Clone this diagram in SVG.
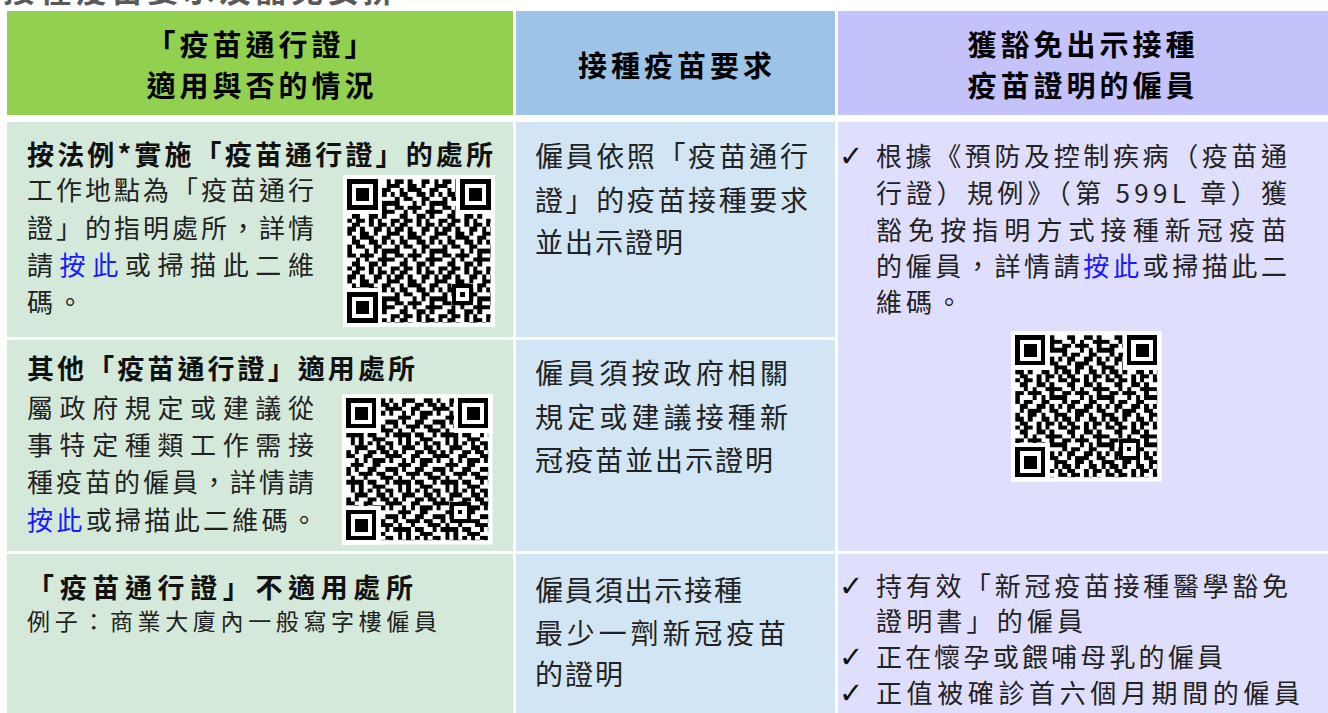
<svg xmlns="http://www.w3.org/2000/svg" xmlns:xlink="http://www.w3.org/1999/xlink" width="1328" height="713" viewBox="0 0 1328 713">
<style>
text{font-family:"Noto Sans CJK TC","Noto Sans CJK SC",sans-serif;fill:#222;font-size:26px}
.top{font-weight:700;font-size:32px;fill:#595959}
.h{font-weight:700;font-size:29px;fill:#000;text-anchor:middle;letter-spacing:4px}
.t{font-weight:700;font-size:27px;fill:#111}
.s{font-size:23px}
.b{font-size:28px}
.p{font-size:26px}
.lk{fill:#1a1aff}
.ck{font-family:"DejaVu Sans",sans-serif;font-size:29px;fill:#111}
.gh{fill:#92d050}.bh{fill:#9dc3e6}.ph{fill:#c4c2fb}
.gc{fill:#d4e9da}.bc{fill:#d1e5f4}.pc{fill:#e0defd}
</style>
<defs>
<pattern id="qpA" patternUnits="userSpaceOnUse" width="11" height="11">
<path shape-rendering="crispEdges" fill="#000" d="M0 0h1v1h-1zM2 0h2v1h-2zM6 0h1v1h-1zM8 0h2v1h-2zM1 1h2v1h-2zM4 1h1v1h-1zM7 1h2v1h-2zM10 1h1v1h-1zM0 2h2v1h-2zM4 2h2v1h-2zM7 2h1v1h-1zM10 2h1v1h-1zM2 3h1v1h-1zM4 3h3v1h-3zM9 3h2v1h-2zM0 4h1v1h-1zM2 4h2v1h-2zM6 4h2v1h-2zM9 4h1v1h-1zM1 5h1v1h-1zM3 5h2v1h-2zM7 5h2v1h-2zM0 6h2v1h-2zM5 6h1v1h-1zM7 6h1v1h-1zM9 6h2v1h-2zM1 7h2v1h-2zM4 7h3v1h-3zM9 7h1v1h-1zM0 8h1v1h-1zM3 8h1v1h-1zM5 8h1v1h-1zM8 8h3v1h-3zM2 9h2v1h-2zM6 9h2v1h-2zM9 9h1v1h-1zM0 10h2v1h-2zM3 10h2v1h-2zM6 10h1v1h-1zM8 10h1v1h-1z"/>
</pattern>
<pattern id="qpB" href="#qpA" xlink:href="#qpA" patternTransform="rotate(90)"/>
<pattern id="qpC" href="#qpA" xlink:href="#qpA" patternTransform="scale(1,-1)"/>
<g id="finder" shape-rendering="crispEdges">
<rect x="-1" y="-1" width="9" height="9" fill="#fff"/>
<rect width="7" height="7" fill="#000"/>
<rect x="1" y="1" width="5" height="5" fill="#fff"/>
<rect x="2" y="2" width="3" height="3" fill="#000"/>
</g>
<g id="align" shape-rendering="crispEdges">
<rect width="5" height="5" fill="#000"/>
<rect x="1" y="1" width="3" height="3" fill="#fff"/>
<rect x="2" y="2" width="1" height="1" fill="#000"/>
</g>
</defs>

<text class="top" x="3" y="2" textLength="392" lengthAdjust="spacing">接種疫苗要求及豁免安排</text>

<g id="header-green">
<rect class="gh" x="7" y="11" width="506" height="104"/>
<text class="h" x="262" y="56">「疫苗通行證」</text>
<text class="h" x="262" y="97">適用與否的情況</text>
</g>
<g id="header-blue">
<rect class="bh" x="516" y="11" width="319" height="104"/>
<text class="h" x="677" y="77">接種疫苗要求</text>
</g>
<g id="header-purple">
<rect class="ph" x="838" y="11" width="490" height="104"/>
<text class="h" x="1083" y="56">獲豁免出示接種</text>
<text class="h" x="1083" y="97">疫苗證明的僱員</text>
</g>

<g id="row1-green">
<rect class="gc" x="7" y="122" width="506" height="215"/>
<text class="t" x="27" y="165" textLength="466" lengthAdjust="spacing">按法例*實施「疫苗通行證」的處所</text>
<text x="27" y="200" textLength="287" lengthAdjust="spacing">工作地點為「疫苗通行</text>
<text x="27" y="238" textLength="287" lengthAdjust="spacing">證」的指明處所，詳情</text>
<text x="27" y="275" textLength="287" lengthAdjust="spacing">請<tspan class="lk">按此</tspan>或掃描此二維</text>
<text x="27" y="312" letter-spacing="4">碼。</text>
<g id="qr1" transform="translate(343,175) scale(4.34)">
<rect width="35" height="35" fill="#fff"/>
<rect x="1" y="1" width="33" height="33" fill="url(#qpA)"/>
<use href="#finder" xlink:href="#finder" x="1" y="1"/>
<use href="#finder" xlink:href="#finder" x="27" y="1"/>
<use href="#finder" xlink:href="#finder" x="1" y="27"/>
<use href="#align" xlink:href="#align" x="25" y="25"/>
</g>
</g>

<g id="row1-blue">
<rect class="bc" x="516" y="122" width="319" height="215"/>
<text class="b" x="535" y="167" textLength="273" lengthAdjust="spacing">僱員依照「疫苗通行</text>
<text class="b" x="535" y="211" textLength="273" lengthAdjust="spacing">證」的疫苗接種要求</text>
<text class="b" x="535" y="253" textLength="148" lengthAdjust="spacing">並出示證明</text>
</g>

<g id="row12-purple">
<rect class="pc" x="838" y="122" width="490" height="429"/>
<text class="ck" x="839" y="166">✓</text>
<text class="p" x="876" y="166" textLength="411" lengthAdjust="spacing">根據《預防及控制疾病（疫苗通</text>
<text class="p" x="876" y="203" textLength="411" lengthAdjust="spacing">行證）規例》（第 599L 章）獲</text>
<text class="p" x="876" y="240" textLength="411" lengthAdjust="spacing">豁免按指明方式接種新冠疫苗</text>
<text class="p" x="876" y="276" textLength="411" lengthAdjust="spacing">的僱員，詳情請<tspan class="lk">按此</tspan>或掃描此二</text>
<text class="p" x="876" y="312" textLength="86" lengthAdjust="spacing">維碼。</text>
<g id="qr3" transform="translate(1011,331) scale(4.3)">
<rect width="35" height="35" fill="#fff"/>
<rect x="1" y="1" width="33" height="33" fill="url(#qpC)"/>
<use href="#finder" xlink:href="#finder" x="1" y="1"/>
<use href="#finder" xlink:href="#finder" x="27" y="1"/>
<use href="#finder" xlink:href="#finder" x="1" y="27"/>
<use href="#align" xlink:href="#align" x="25" y="25"/>
</g>
</g>

<g id="row2-green">
<rect class="gc" x="7" y="340" width="506" height="211"/>
<text class="t" x="27" y="379" textLength="388" lengthAdjust="spacing">其他「疫苗通行證」適用處所</text>
<text x="27" y="418" textLength="287" lengthAdjust="spacing">屬政府規定或建議從</text>
<text x="27" y="455" textLength="287" lengthAdjust="spacing">事特定種類工作需接</text>
<text x="27" y="492" textLength="287" lengthAdjust="spacing">種疫苗的僱員，詳情請</text>
<text x="27" y="530" textLength="290" lengthAdjust="spacing"><tspan class="lk">按此</tspan>或掃描此二維碼。</text>
<g id="qr2" transform="translate(342,394) scale(4.3)">
<rect width="35" height="35" fill="#fff"/>
<rect x="1" y="1" width="33" height="33" fill="url(#qpB)"/>
<use href="#finder" xlink:href="#finder" x="1" y="1"/>
<use href="#finder" xlink:href="#finder" x="27" y="1"/>
<use href="#finder" xlink:href="#finder" x="1" y="27"/>
<use href="#align" xlink:href="#align" x="25" y="25"/>
</g>
</g>

<g id="row2-blue">
<rect class="bc" x="516" y="340" width="319" height="211"/>
<text class="b" x="535" y="384" textLength="253" lengthAdjust="spacing">僱員須按政府相關</text>
<text class="b" x="535" y="428" textLength="253" lengthAdjust="spacing">規定或建議接種新</text>
<text class="b" x="535" y="471" textLength="238" lengthAdjust="spacing">冠疫苗並出示證明</text>
</g>

<g id="row3-green">
<rect class="gc" x="7" y="554" width="506" height="159"/>
<text class="t" x="27" y="598" textLength="386" lengthAdjust="spacing">「疫苗通行證」不適用處所</text>
<text class="s" x="27" y="630" textLength="410" lengthAdjust="spacing">例子：商業大廈內一般寫字樓僱員</text>
</g>

<g id="row3-blue">
<rect class="bc" x="516" y="554" width="319" height="159"/>
<text class="b" x="535" y="601" textLength="207" lengthAdjust="spacing">僱員須出示接種</text>
<text class="b" x="535" y="644" textLength="251" lengthAdjust="spacing">最少一劑新冠疫苗</text>
<text class="b" x="535" y="685" textLength="88" lengthAdjust="spacing">的證明</text>
</g>

<g id="row3-purple">
<rect class="pc" x="838" y="554" width="490" height="159"/>
<text class="ck" x="839" y="596">✓</text>
<text class="p" x="876" y="596" textLength="412" lengthAdjust="spacing">持有效「新冠疫苗接種醫學豁免</text>
<text class="p" x="876" y="631" textLength="207" lengthAdjust="spacing">證明書」的僱員</text>
<text class="ck" x="839" y="667">✓</text>
<text class="p" x="876" y="667" textLength="347" lengthAdjust="spacing">正在懷孕或餵哺母乳的僱員</text>
<text class="ck" x="839" y="703">✓</text>
<text class="p" x="876" y="703" textLength="424" lengthAdjust="spacing">正值被確診首六個月期間的僱員</text>
</g>
</svg>
